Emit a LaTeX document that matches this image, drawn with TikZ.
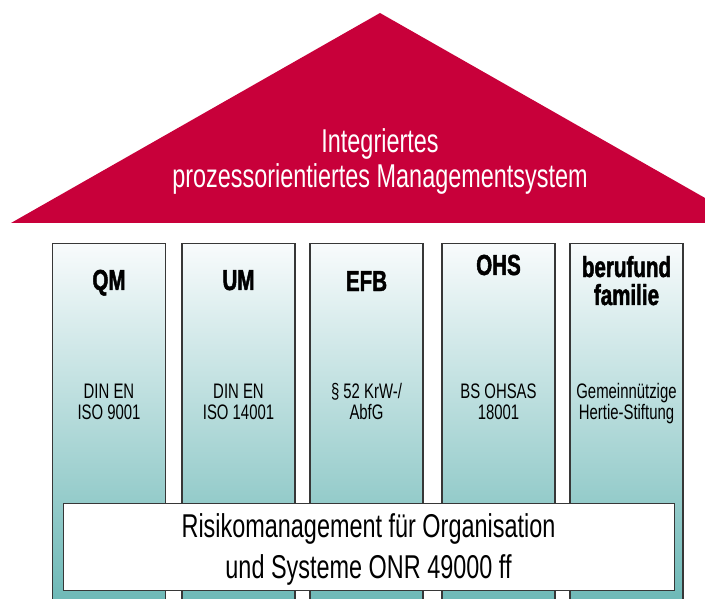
\documentclass[tikz,border=0pt]{standalone}
\usepackage{fontspec}
\setmainfont[FakeStretch=0.71, BoldFeatures={FakeBold=1.6}]{Liberation Sans}
\usetikzlibrary{positioning}

\definecolor{roofred}{RGB}{200,0,58}
\definecolor{pillartop}{RGB}{248,251,252}
\definecolor{pillarmid}{RGB}{200,225,227}
\definecolor{pillarbot}{RGB}{108,184,182}
\definecolor{edgegray}{RGB}{55,55,55}

\tikzset{
  pillar/.style={draw=edgegray, line width=1.2pt, top color=pillartop, middle color=pillarmid, bottom color=pillarbot, minimum width=113pt, minimum height=362pt, inner sep=0pt, anchor=north},
  headtext/.style={font=\bfseries\fontsize{29}{28}\selectfont, align=center, anchor=base, inner sep=0pt},
  normtext/.style={font=\fontsize{21}{21}\selectfont, align=center, anchor=base, inner sep=0pt},
  bigtext/.style={align=center, anchor=base, inner sep=0pt},
}

\begin{document}
\begin{tikzpicture}[x=1pt,y=1pt,yscale=-1,xscale=1]
\useasboundingbox (0,0) rectangle (705,599);

%Roof
\fill [roofred] (11,223) -- (380,13) -- (749,223) -- cycle ;
% Text Node
\node [bigtext, font=\fontsize{33}{35}\selectfont, text=white] (roof) at (380,188) {Integriertes\\prozessorientiertes Managementsystem};

%Pillars
\foreach \name/\x in {qm/109, um/238.5, efb/366.5, ohs/498.5, bf/626.5}
  \node [pillar] (\name) at (\x,243) {};

% Text Node
\node [headtext] (qmhead) at ([yshift=47pt]qm.north) {QM};
\node [headtext] (umhead) at ([yshift=47pt]um.north) {UM};
\node [headtext] (efbhead) at ([yshift=48pt]efb.north) {EFB};
\node [headtext] (ohshead) at ([yshift=32pt]ohs.north) {OHS};
\node [headtext] (bfhead) at ([yshift=62pt]bf.north) {berufund\\familie};

% Text Node
\node [normtext] (qmnorm) at ([yshift=176pt]qm.north) {DIN EN\\ISO 9001};
\node [normtext] (umnorm) at ([yshift=176pt]um.north) {DIN EN\\ISO 14001};
\node [normtext] (efbnorm) at ([yshift=176pt]efb.north) {§ 52 KrW-/\\AbfG};
\node [normtext] (ohsnorm) at ([yshift=176pt]ohs.north) {BS OHSAS\\18001};
\node [normtext] (bfnorm) at ([yshift=176pt]bf.north) {Gemeinnützige\\Hertie-Stiftung};

%Base box
\node [draw=edgegray, line width=1.2pt, fill=white, minimum width=611pt, minimum height=87pt, inner sep=0pt, anchor=north west] (risk) at (63,503) {};
% Text Node
\node [bigtext, font=\fontsize{33}{41}\selectfont] (risktext) at (368.5,578) {Risikomanagement für Organisation\\und Systeme ONR 49000 ff};

\end{tikzpicture}
\end{document}
